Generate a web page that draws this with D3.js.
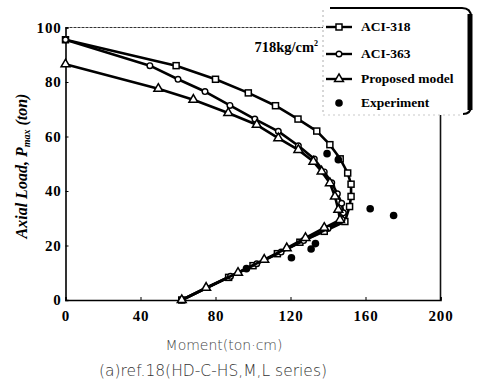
<!DOCTYPE html>
<html><head><meta charset="utf-8">
<script src="https://cdn.jsdelivr.net/npm/d3@7"></script>
<style>body{margin:0;background:#fff}svg{display:block}</style>
</head><body>
<svg id="c" width="480" height="381"></svg>
<script>
const xTicks = [0, 40, 80, 120, 160, 200];
const yTicks = [0, 20, 40, 60, 80, 100];
const aci318 = [[0,95.5],[59,86],[80,81],[97.5,76],[112,71.3],[124,66.4],[134,62],[141,57],[146.5,51.8],[150.5,46.6],[152.3,42.5],[152.3,38],[151.5,34.3],[149,28.8],[138,25.2],[125,21.2],[113,17],[100,12.6],[87,8.3],[62,0]];
const aci363 = [[0,95.5],[45,86],[60,81],[74.4,76.5],[87.7,71.4],[101,66.4],[113.5,61.9],[124.2,56.6],[132.7,51.7],[138,47],[142,43],[145,39],[147.3,35.5],[148.2,32],[147.5,29.5],[140,26.2],[127,21.8],[115,17.6],[102,13.3],[88,8.7],[62,0]];
const proposed = [[0,86.5],[49.5,77.5],[68.2,73.5],[86.8,68.6],[102,64.3],[113.5,59.4],[124.2,55.1],[132.2,50.8],[136.6,47.2],[141,42.9],[143.7,38],[145.5,33.1],[146.4,29.4],[138,26.5],[128,22.8],[118,19],[106,14.8],[92,10],[75,4.5],[62,0]];
const experiment = [[96.5,11.5],[120.5,15.5],[131,18.7],[133.3,20.7],[139.5,53.7],[145.5,51.5],[162.5,33.5],[175,31]];
const legendLabels = ["ACI-318","ACI-363","Proposed model","Experiment"];

const svg = d3.select("#c");
const x = d3.scaleLinear().domain([0,200]).range([65.5,440.5]);
const y = d3.scaleLinear().domain([0,100]).range([300,27.5]);
const serif = "'Liberation Serif','Times New Roman',serif";

// frame
svg.append("line").attr("x1",x(0)).attr("x2",323).attr("y1",y(100)).attr("y2",y(100))
  .attr("stroke","#333").attr("stroke-width",1).attr("stroke-dasharray","3,1");
svg.append("line").attr("x1",x(200)).attr("x2",x(200)).attr("y1",112).attr("y2",y(0))
  .attr("stroke","#111").attr("stroke-width",1.6);
// axes
const xa = svg.append("g").attr("transform",`translate(0,${y(0)})`)
  .call(d3.axisBottom(x).tickValues(xTicks).tickSize(-3).tickPadding(10).tickFormat(d3.format("d")));
const ya = svg.append("g").attr("transform",`translate(${x(0)},0)`)
  .call(d3.axisLeft(y).tickValues(yTicks).tickSize(-3).tickPadding(4).tickFormat(d3.format("d")));
[xa,ya].forEach(a=>{
  a.attr("font-family",null);
  a.select(".domain").attr("stroke","#000").attr("stroke-width",1.6);
  a.selectAll(".tick line").attr("stroke","#000");
  a.selectAll("text").style("font-family",serif).style("font-weight","bold").style("font-size","15px")
    .style("letter-spacing","0.8px").attr("fill","#000");
});

const line = d3.line().x(d=>x(d[0])).y(d=>y(d[1]));
function drawSeries(data, shape){
  svg.append("path").datum(data).attr("d",line).attr("fill","none")
    .attr("stroke","#000").attr("stroke-width",2.6).attr("stroke-linejoin","round");
  const g = svg.append("g");
  data.forEach(d=>drawMarker(g, x(d[0]), y(d[1]), shape));
}
function drawMarker(g, cx, cy, shape){
  if(shape==="square"){
    g.append("rect").attr("x",cx-3).attr("y",cy-3).attr("width",6).attr("height",6)
      .attr("fill","#fff").attr("stroke","#000").attr("stroke-width",1.5);
  } else if(shape==="circle"){
    g.append("circle").attr("cx",cx).attr("cy",cy).attr("r",2.8)
      .attr("fill","#fff").attr("stroke","#000").attr("stroke-width",1.4);
  } else if(shape==="triangle"){
    g.append("path").attr("d",d3.symbol(d3.symbolTriangle,34)()).attr("transform",`translate(${cx},${cy})`)
      .attr("fill","#fff").attr("stroke","#000").attr("stroke-width",1.5);
  } else {
    g.append("circle").attr("cx",cx).attr("cy",cy).attr("r",3.8).attr("fill","#000");
  }
}
drawSeries(aci318,"square");
drawSeries(aci363,"circle");
drawSeries(proposed,"triangle");
const eg = svg.append("g");
experiment.forEach(d=>drawMarker(eg, x(d[0]), y(d[1]), "dot"));

// annotation
const ann = svg.append("text").attr("x",318).attr("y",52).attr("text-anchor","end").style("font-family",serif)
  .style("font-weight","bold").style("font-size","14.5px").attr("fill","#000");
ann.append("tspan").text("718kg/cm");
ann.append("tspan").attr("dy",-6).style("font-size","8px").text("2");

// legend
const lg = svg.append("g");
lg.append("path").attr("d","M323,8 H463 Q472,8 472,17 V106 Q472,115 463,115 H323")
  .attr("fill","#fff").attr("stroke","none");
lg.append("path").attr("d","M330,8 H462 Q471,8 471,17 V106 Q471,114 463,114")
  .attr("fill","none").attr("stroke","#000").attr("stroke-width",2);
lg.append("line").attr("x1",470).attr("x2",470).attr("y1",14).attr("y2",110).attr("stroke","#000").attr("stroke-width",5);
lg.append("line").attr("x1",323).attr("x2",323).attr("y1",10).attr("y2",113).attr("stroke","#999").attr("stroke-width",0.8).attr("stroke-dasharray","2,3");
lg.append("line").attr("x1",323).attr("x2",462).attr("y1",115).attr("y2",115).attr("stroke","#bbb").attr("stroke-width",0.8).attr("stroke-dasharray","2,3");
const shapes = ["square","circle","triangle","dot"];
const rowsY = [27,54,79,103];
legendLabels.forEach((lab,i)=>{
  const ry = rowsY[i];
  if(i<3){
    lg.append("line").attr("x1",326).attr("x2",352).attr("y1",ry).attr("y2",ry).attr("stroke","#000").attr("stroke-width",2.4);
  }
  drawMarker(lg, 339, ry, shapes[i]);
  lg.append("text").attr("x",361).attr("y",ry+4).style("font-family",serif).style("font-weight","bold")
    .style("font-size","13.5px").attr("fill","#000").text(lab);
});

// y axis label
const yl = svg.append("text").attr("transform","translate(27,166) rotate(-90)").attr("text-anchor","middle")
  .style("font-family",serif).style("font-weight","bold").style("font-style","italic").style("font-size","16px").attr("fill","#000");
yl.append("tspan").text("Axial Load,  P");
yl.append("tspan").style("font-size","10px").attr("dy",3).text("max");
yl.append("tspan").attr("dy",-3).text("   (ton)");

// x title and caption
svg.append("text").attr("x",224).attr("y",350).attr("text-anchor","middle")
  .style("font-family","'DejaVu Sans',sans-serif").style("font-size","14px").attr("fill","#444").style("font-weight","300").text("Moment(ton·cm)");
svg.append("text").attr("x",213).attr("y",376).attr("text-anchor","middle")
  .style("font-family","'DejaVu Sans',sans-serif").style("font-size","15.5px").attr("fill","#333").style("font-weight","300").text("(a)ref.18(HD-C-HS,M,L series)");
</script>
</body></html>
